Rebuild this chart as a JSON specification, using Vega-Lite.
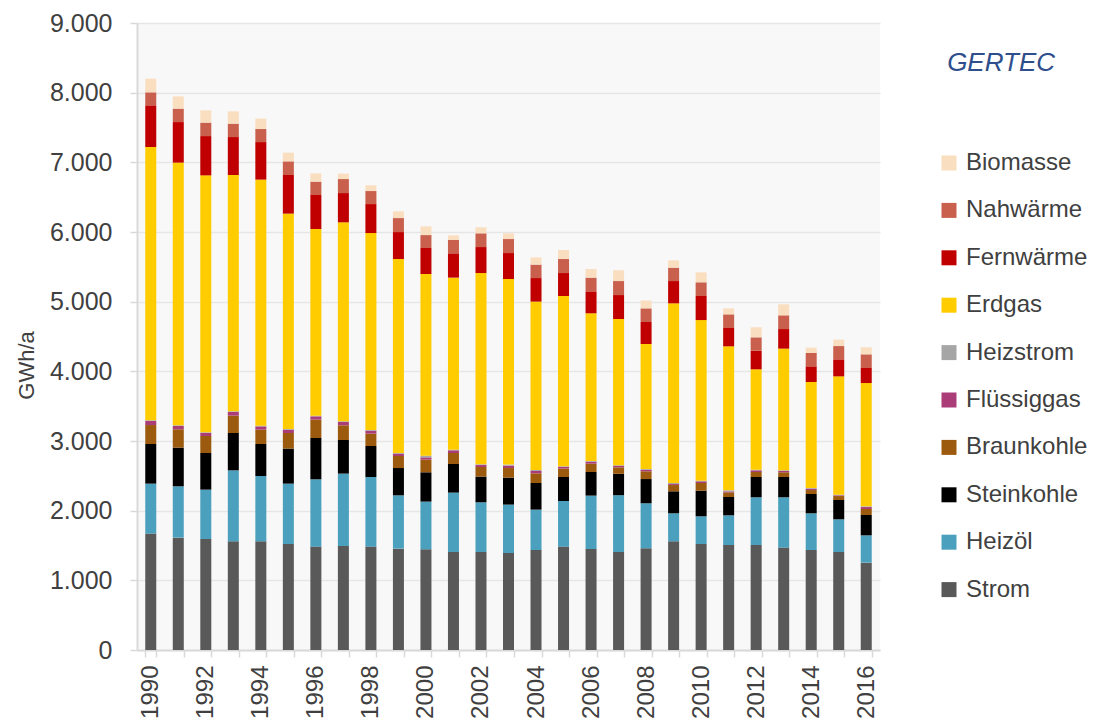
{
  "$schema": "https://vega.github.io/schema/vega-lite/v6.json",
  "width": 743,
  "height": 627,
  "autosize": "none",
  "padding": {"left": 137, "top": 23, "right": 227, "bottom": 76},
  "background": "white",
  "title": {"text": "GERTEC", "anchor": "end", "frame": "group", "fontSize": 26, "font": "Liberation Sans", "fontStyle": "italic", "fontWeight": "normal", "color": "#2E4E8C", "dx": 175, "dy": 65, "offset": 0},
  "data": {"values": [
    {"year":1990,"cat":"Strom","value":1671},{"year":1990,"cat":"Heizöl","value":717},{"year":1990,"cat":"Steinkohle","value":569},{"year":1990,"cat":"Braunkohle","value":272},{"year":1990,"cat":"Flüssiggas","value":58},{"year":1990,"cat":"Heizstrom","value":10},{"year":1990,"cat":"Erdgas","value":3923},{"year":1990,"cat":"Fernwärme","value":598},{"year":1990,"cat":"Nahwärme","value":187},{"year":1990,"cat":"Biomasse","value":196},
    {"year":1991,"cat":"Strom","value":1613},{"year":1991,"cat":"Heizöl","value":737},{"year":1991,"cat":"Steinkohle","value":555},{"year":1991,"cat":"Braunkohle","value":263},{"year":1991,"cat":"Flüssiggas","value":47},{"year":1991,"cat":"Heizstrom","value":10},{"year":1991,"cat":"Erdgas","value":3771},{"year":1991,"cat":"Fernwärme","value":582},{"year":1991,"cat":"Nahwärme","value":193},{"year":1991,"cat":"Biomasse","value":176},
    {"year":1992,"cat":"Strom","value":1593},{"year":1992,"cat":"Heizöl","value":709},{"year":1992,"cat":"Steinkohle","value":526},{"year":1992,"cat":"Braunkohle","value":244},{"year":1992,"cat":"Flüssiggas","value":43},{"year":1992,"cat":"Heizstrom","value":10},{"year":1992,"cat":"Erdgas","value":3688},{"year":1992,"cat":"Fernwärme","value":564},{"year":1992,"cat":"Nahwärme","value":193},{"year":1992,"cat":"Biomasse","value":176},
    {"year":1993,"cat":"Strom","value":1560},{"year":1993,"cat":"Heizöl","value":1019},{"year":1993,"cat":"Steinkohle","value":536},{"year":1993,"cat":"Braunkohle","value":249},{"year":1993,"cat":"Flüssiggas","value":52},{"year":1993,"cat":"Heizstrom","value":10},{"year":1993,"cat":"Erdgas","value":3392},{"year":1993,"cat":"Fernwärme","value":545},{"year":1993,"cat":"Nahwärme","value":192},{"year":1993,"cat":"Biomasse","value":177},
    {"year":1994,"cat":"Strom","value":1560},{"year":1994,"cat":"Heizöl","value":937},{"year":1994,"cat":"Steinkohle","value":460},{"year":1994,"cat":"Braunkohle","value":206},{"year":1994,"cat":"Flüssiggas","value":47},{"year":1994,"cat":"Heizstrom","value":10},{"year":1994,"cat":"Erdgas","value":3532},{"year":1994,"cat":"Fernwärme","value":539},{"year":1994,"cat":"Nahwärme","value":187},{"year":1994,"cat":"Biomasse","value":149},
    {"year":1995,"cat":"Strom","value":1521},{"year":1995,"cat":"Heizöl","value":867},{"year":1995,"cat":"Steinkohle","value":503},{"year":1995,"cat":"Braunkohle","value":224},{"year":1995,"cat":"Flüssiggas","value":47},{"year":1995,"cat":"Heizstrom","value":10},{"year":1995,"cat":"Erdgas","value":3092},{"year":1995,"cat":"Fernwärme","value":554},{"year":1995,"cat":"Nahwärme","value":196},{"year":1995,"cat":"Biomasse","value":125},
    {"year":1996,"cat":"Strom","value":1484},{"year":1996,"cat":"Heizöl","value":966},{"year":1996,"cat":"Steinkohle","value":593},{"year":1996,"cat":"Braunkohle","value":264},{"year":1996,"cat":"Flüssiggas","value":47},{"year":1996,"cat":"Heizstrom","value":10},{"year":1996,"cat":"Erdgas","value":2679},{"year":1996,"cat":"Fernwärme","value":488},{"year":1996,"cat":"Nahwärme","value":192},{"year":1996,"cat":"Biomasse","value":119},
    {"year":1997,"cat":"Strom","value":1493},{"year":1997,"cat":"Heizöl","value":1039},{"year":1997,"cat":"Steinkohle","value":482},{"year":1997,"cat":"Braunkohle","value":211},{"year":1997,"cat":"Flüssiggas","value":48},{"year":1997,"cat":"Heizstrom","value":10},{"year":1997,"cat":"Erdgas","value":2856},{"year":1997,"cat":"Fernwärme","value":420},{"year":1997,"cat":"Nahwärme","value":201},{"year":1997,"cat":"Biomasse","value":78},
    {"year":1998,"cat":"Strom","value":1484},{"year":1998,"cat":"Heizöl","value":999},{"year":1998,"cat":"Steinkohle","value":445},{"year":1998,"cat":"Braunkohle","value":178},{"year":1998,"cat":"Flüssiggas","value":42},{"year":1998,"cat":"Heizstrom","value":10},{"year":1998,"cat":"Erdgas","value":2827},{"year":1998,"cat":"Fernwärme","value":416},{"year":1998,"cat":"Nahwärme","value":187},{"year":1998,"cat":"Biomasse","value":82},
    {"year":1999,"cat":"Strom","value":1455},{"year":1999,"cat":"Heizöl","value":765},{"year":1999,"cat":"Steinkohle","value":392},{"year":1999,"cat":"Braunkohle","value":173},{"year":1999,"cat":"Flüssiggas","value":33},{"year":1999,"cat":"Heizstrom","value":10},{"year":1999,"cat":"Erdgas","value":2784},{"year":1999,"cat":"Fernwärme","value":387},{"year":1999,"cat":"Nahwärme","value":201},{"year":1999,"cat":"Biomasse","value":97},
    {"year":2000,"cat":"Strom","value":1445},{"year":2000,"cat":"Heizöl","value":685},{"year":2000,"cat":"Steinkohle","value":421},{"year":2000,"cat":"Braunkohle","value":182},{"year":2000,"cat":"Flüssiggas","value":32},{"year":2000,"cat":"Heizstrom","value":25},{"year":2000,"cat":"Erdgas","value":2607},{"year":2000,"cat":"Fernwärme","value":373},{"year":2000,"cat":"Nahwärme","value":186},{"year":2000,"cat":"Biomasse","value":125},
    {"year":2001,"cat":"Strom","value":1407},{"year":2001,"cat":"Heizöl","value":852},{"year":2001,"cat":"Steinkohle","value":411},{"year":2001,"cat":"Braunkohle","value":158},{"year":2001,"cat":"Flüssiggas","value":38},{"year":2001,"cat":"Heizstrom","value":10},{"year":2001,"cat":"Erdgas","value":2469},{"year":2001,"cat":"Fernwärme","value":349},{"year":2001,"cat":"Nahwärme","value":191},{"year":2001,"cat":"Biomasse","value":67},
    {"year":2002,"cat":"Strom","value":1407},{"year":2002,"cat":"Heizöl","value":713},{"year":2002,"cat":"Steinkohle","value":369},{"year":2002,"cat":"Braunkohle","value":138},{"year":2002,"cat":"Flüssiggas","value":28},{"year":2002,"cat":"Heizstrom","value":10},{"year":2002,"cat":"Erdgas","value":2746},{"year":2002,"cat":"Fernwärme","value":373},{"year":2002,"cat":"Nahwärme","value":197},{"year":2002,"cat":"Biomasse","value":86},
    {"year":2003,"cat":"Strom","value":1392},{"year":2003,"cat":"Heizöl","value":695},{"year":2003,"cat":"Steinkohle","value":387},{"year":2003,"cat":"Braunkohle","value":138},{"year":2003,"cat":"Flüssiggas","value":34},{"year":2003,"cat":"Heizstrom","value":15},{"year":2003,"cat":"Erdgas","value":2664},{"year":2003,"cat":"Fernwärme","value":373},{"year":2003,"cat":"Nahwärme","value":201},{"year":2003,"cat":"Biomasse","value":82},
    {"year":2004,"cat":"Strom","value":1435},{"year":2004,"cat":"Heizöl","value":580},{"year":2004,"cat":"Steinkohle","value":382},{"year":2004,"cat":"Braunkohle","value":139},{"year":2004,"cat":"Flüssiggas","value":33},{"year":2004,"cat":"Heizstrom","value":15},{"year":2004,"cat":"Erdgas","value":2417},{"year":2004,"cat":"Fernwärme","value":338},{"year":2004,"cat":"Nahwärme","value":193},{"year":2004,"cat":"Biomasse","value":104},
    {"year":2005,"cat":"Strom","value":1484},{"year":2005,"cat":"Heizöl","value":655},{"year":2005,"cat":"Steinkohle","value":344},{"year":2005,"cat":"Braunkohle","value":121},{"year":2005,"cat":"Flüssiggas","value":23},{"year":2005,"cat":"Heizstrom","value":10},{"year":2005,"cat":"Erdgas","value":2444},{"year":2005,"cat":"Fernwärme","value":330},{"year":2005,"cat":"Nahwärme","value":201},{"year":2005,"cat":"Biomasse","value":129},
    {"year":2006,"cat":"Strom","value":1450},{"year":2006,"cat":"Heizöl","value":766},{"year":2006,"cat":"Steinkohle","value":339},{"year":2006,"cat":"Braunkohle","value":120},{"year":2006,"cat":"Flüssiggas","value":28},{"year":2006,"cat":"Heizstrom","value":10},{"year":2006,"cat":"Erdgas","value":2120},{"year":2006,"cat":"Fernwärme","value":315},{"year":2006,"cat":"Nahwärme","value":197},{"year":2006,"cat":"Biomasse","value":124},
    {"year":2007,"cat":"Strom","value":1407},{"year":2007,"cat":"Heizöl","value":815},{"year":2007,"cat":"Steinkohle","value":307},{"year":2007,"cat":"Braunkohle","value":93},{"year":2007,"cat":"Flüssiggas","value":21},{"year":2007,"cat":"Heizstrom","value":10},{"year":2007,"cat":"Erdgas","value":2098},{"year":2007,"cat":"Fernwärme","value":344},{"year":2007,"cat":"Nahwärme","value":201},{"year":2007,"cat":"Biomasse","value":154},
    {"year":2008,"cat":"Strom","value":1460},{"year":2008,"cat":"Heizöl","value":646},{"year":2008,"cat":"Steinkohle","value":348},{"year":2008,"cat":"Braunkohle","value":111},{"year":2008,"cat":"Flüssiggas","value":23},{"year":2008,"cat":"Heizstrom","value":10},{"year":2008,"cat":"Erdgas","value":1794},{"year":2008,"cat":"Fernwärme","value":316},{"year":2008,"cat":"Nahwärme","value":196},{"year":2008,"cat":"Biomasse","value":113},
    {"year":2009,"cat":"Strom","value":1560},{"year":2009,"cat":"Heizöl","value":402},{"year":2009,"cat":"Steinkohle","value":316},{"year":2009,"cat":"Braunkohle","value":90},{"year":2009,"cat":"Flüssiggas","value":14},{"year":2009,"cat":"Heizstrom","value":15},{"year":2009,"cat":"Erdgas","value":2579},{"year":2009,"cat":"Fernwärme","value":320},{"year":2009,"cat":"Nahwärme","value":192},{"year":2009,"cat":"Biomasse","value":105},
    {"year":2010,"cat":"Strom","value":1521},{"year":2010,"cat":"Heizöl","value":398},{"year":2010,"cat":"Steinkohle","value":369},{"year":2010,"cat":"Braunkohle","value":109},{"year":2010,"cat":"Flüssiggas","value":24},{"year":2010,"cat":"Heizstrom","value":10},{"year":2010,"cat":"Erdgas","value":2305},{"year":2010,"cat":"Fernwärme","value":345},{"year":2010,"cat":"Nahwärme","value":197},{"year":2010,"cat":"Biomasse","value":143},
    {"year":2011,"cat":"Strom","value":1507},{"year":2011,"cat":"Heizöl","value":426},{"year":2011,"cat":"Steinkohle","value":263},{"year":2011,"cat":"Braunkohle","value":67},{"year":2011,"cat":"Flüssiggas","value":14},{"year":2011,"cat":"Heizstrom","value":15},{"year":2011,"cat":"Erdgas","value":2067},{"year":2011,"cat":"Fernwärme","value":263},{"year":2011,"cat":"Nahwärme","value":196},{"year":2011,"cat":"Biomasse","value":86},
    {"year":2012,"cat":"Strom","value":1507},{"year":2012,"cat":"Heizöl","value":685},{"year":2012,"cat":"Steinkohle","value":291},{"year":2012,"cat":"Braunkohle","value":72},{"year":2012,"cat":"Flüssiggas","value":24},{"year":2012,"cat":"Heizstrom","value":10},{"year":2012,"cat":"Erdgas","value":1440},{"year":2012,"cat":"Fernwärme","value":268},{"year":2012,"cat":"Nahwärme","value":191},{"year":2012,"cat":"Biomasse","value":144},
    {"year":2013,"cat":"Strom","value":1470},{"year":2013,"cat":"Heizöl","value":722},{"year":2013,"cat":"Steinkohle","value":291},{"year":2013,"cat":"Braunkohle","value":68},{"year":2013,"cat":"Flüssiggas","value":18},{"year":2013,"cat":"Heizstrom","value":10},{"year":2013,"cat":"Erdgas","value":1747},{"year":2013,"cat":"Fernwärme","value":281},{"year":2013,"cat":"Nahwärme","value":197},{"year":2013,"cat":"Biomasse","value":158},
    {"year":2014,"cat":"Strom","value":1435},{"year":2014,"cat":"Heizöl","value":527},{"year":2014,"cat":"Steinkohle","value":277},{"year":2014,"cat":"Braunkohle","value":57},{"year":2014,"cat":"Flüssiggas","value":19},{"year":2014,"cat":"Heizstrom","value":10},{"year":2014,"cat":"Erdgas","value":1522},{"year":2014,"cat":"Fernwärme","value":225},{"year":2014,"cat":"Nahwärme","value":191},{"year":2014,"cat":"Biomasse","value":77},
    {"year":2015,"cat":"Strom","value":1407},{"year":2015,"cat":"Heizöl","value":469},{"year":2015,"cat":"Steinkohle","value":277},{"year":2015,"cat":"Braunkohle","value":57},{"year":2015,"cat":"Flüssiggas","value":10},{"year":2015,"cat":"Heizstrom","value":10},{"year":2015,"cat":"Erdgas","value":1698},{"year":2015,"cat":"Fernwärme","value":244},{"year":2015,"cat":"Nahwärme","value":191},{"year":2015,"cat":"Biomasse","value":92},
    {"year":2016,"cat":"Strom","value":1254},{"year":2016,"cat":"Heizöl","value":392},{"year":2016,"cat":"Steinkohle","value":292},{"year":2016,"cat":"Braunkohle","value":86},{"year":2016,"cat":"Flüssiggas","value":28},{"year":2016,"cat":"Heizstrom","value":10},{"year":2016,"cat":"Erdgas","value":1770},{"year":2016,"cat":"Fernwärme","value":216},{"year":2016,"cat":"Nahwärme","value":196},{"year":2016,"cat":"Biomasse","value":101}
  ]},
  "transform": [
    {"lookup": "cat", "from": {"data": {"values": [
      {"cat":"Strom","rank":0},{"cat":"Heizöl","rank":1},{"cat":"Steinkohle","rank":2},{"cat":"Braunkohle","rank":3},{"cat":"Flüssiggas","rank":4},
      {"cat":"Heizstrom","rank":5},{"cat":"Erdgas","rank":6},{"cat":"Fernwärme","rank":7},{"cat":"Nahwärme","rank":8},{"cat":"Biomasse","rank":9}
    ]}, "key": "cat", "fields": ["rank"]}}
  ],
  "mark": {"type": "bar"},
  "encoding": {
    "x": {
      "field": "year", "type": "ordinal",
      "scale": {"paddingInner": 0.6, "paddingOuter": 0.3},
      "axis": {
        "title": null, "labelAngle": 270, "labelAlign": "right", "labelBaseline": "middle",
        "labelExpr": "datum.value % 2 == 0 ? datum.label : ''",
        "tickBand": "extent", "tickSize": 7, "tickColor": "#d9d9d9", "tickWidth": 1.5,
        "domainColor": "#d9d9d9", "domainWidth": 2,
        "labelFontSize": 24, "labelFont": "Liberation Sans", "labelColor": "#404040", "labelPadding": 8,
        "grid": false
      }
    },
    "y": {
      "field": "value", "type": "quantitative", "stack": "zero",
      "scale": {"domain": [0, 9000], "nice": false},
      "axis": {
        "title": "GWh/a", "values": [0,1000,2000,3000,4000,5000,6000,7000,8000,9000],
        "labelExpr": "replace(format(datum.value, ',d'), ',', '.')",
        "grid": true, "gridColor": "#e6e6e6", "gridWidth": 1.5,
        "domainColor": "#d9d9d9", "domainWidth": 2,
        "tickColor": "#d9d9d9", "tickSize": 7, "tickWidth": 1.5,
        "labelPadding": 18, "labelFontSize": 25, "labelFont": "Liberation Sans", "labelColor": "#404040",
        "titleFontSize": 22, "titleFont": "Liberation Sans", "titleFontWeight": "normal", "titleColor": "#404040",
        "titleAngle": 270, "titleAlign": "center", "titleBaseline": "bottom", "titleX": -99, "titleY": 342
      }
    },
    "order": {"field": "rank", "type": "quantitative", "sort": "ascending"},
    "color": {
      "field": "cat", "type": "nominal",
      "scale": {
        "domain": ["Strom","Heizöl","Steinkohle","Braunkohle","Flüssiggas","Heizstrom","Erdgas","Fernwärme","Nahwärme","Biomasse"],
        "range": ["#595959","#4BA0BE","#000000","#9C5A0E","#AA3C78","#A6A6A6","#FFCC00","#C00000","#C8604D","#FADEC0"]
      },
      "legend": {
        "orient": "none", "legendX": 800, "legendY": 128, "title": null,
        "values": ["Biomasse","Nahwärme","Fernwärme","Erdgas","Heizstrom","Flüssiggas","Braunkohle","Steinkohle","Heizöl","Strom"],
        "symbolType": "square", "symbolSize": 225, "symbolStrokeWidth": 0, "symbolOpacity": 1,
        "labelFontSize": 24, "labelFont": "Liberation Sans", "labelColor": "#404040",
        "rowPadding": 23.4, "labelOffset": 5, "padding": 0
      }
    }
  },
  "config": {"view": {"stroke": null, "fill": "#f8f8f8"}}
}
